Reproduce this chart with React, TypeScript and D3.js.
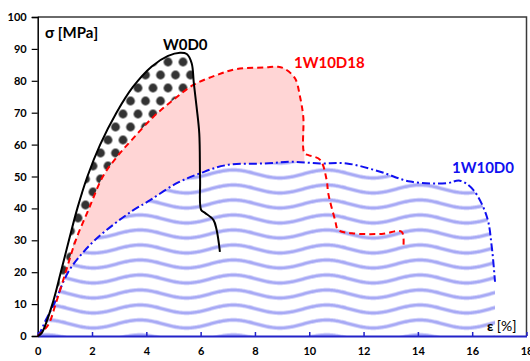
import { useEffect, useRef } from "react";
import * as d3 from "d3";

// stress-strain curves: [strain %, stress MPa]
const w0d0: [number, number][] = [
  [0, 0], [0.15, 1], [0.54, 10], [0.85, 20], [1.15, 30], [1.46, 40], [1.83, 50],
  [2.3, 60], [2.9, 70], [3.5, 78], [4.2, 84.5], [4.8, 87.8], [5.24, 88.8],
  [5.49, 88.4], [5.67, 85.5], [5.75, 79.2], [5.85, 71.9], [5.95, 63.5],
  [5.98, 48.9], [6.02, 39.5], [6.16, 38.6], [6.47, 36.4], [6.59, 33.2], [6.71, 26.4],
];
const w10d18: [number, number][] = [
  [0, 0], [0.2, 1.5], [0.42, 4], [0.66, 10], [1.03, 20], [1.4, 30], [1.89, 40], [2.4, 50],
  [2.95, 56.5], [3.5, 61.8], [4.26, 68.7], [4.99, 74], [5.73, 78.7], [6.59, 81.8], [7.33, 83.7],
  [8.37, 84.2], [8.85, 84.4], [9.11, 83.7], [9.48, 80.7], [9.66, 75], [9.78, 68.7],
  [9.82, 57.3], [9.97, 56.7], [10.4, 55.2], [10.64, 48.9], [10.7, 44.7], [10.95, 36.4],
  [11.07, 33.2], [11.57, 32.2], [12.67, 32], [13.4, 32.7], [13.47, 28.5],
];
const w10d0: [number, number][] = [
  [0, 0], [0.08, 1], [0.3, 5], [0.6, 10], [1.12, 20], [1.6, 25.5], [2.1, 30], [2.8, 35],
  [3.48, 39.2], [4.14, 42.6], [5.12, 47.9], [5.98, 51], [6.96, 53.6], [8.37, 54.1],
  [9.35, 54.6], [10.4, 54.1], [11.38, 54.1], [12.61, 51.5], [13.72, 48.4], [15.07, 47.9],
  [15.55, 48.7], [16.04, 45.8], [16.54, 37.4], [16.72, 28], [16.84, 17],
];
// index where the red curve drops onto the blue one (end of the pink band)
const redDropIndex = 21;

const xTicks = [0, 2, 4, 6, 8, 10, 12, 14, 16, 18];
const yTicks = [0, 10, 20, 30, 40, 50, 60, 70, 80, 90, 100];

const font = "Lato, 'Open Sans', sans-serif";

export default function App() {
  const ref = useRef<SVGSVGElement>(null);

  useEffect(() => {
    const svg = d3.select(ref.current);
    svg.selectAll("*").remove();

    const left = 37.7;
    const right = 526.5;
    const top = 17;
    const bottom = 336;
    const x = d3.scaleLinear().domain([0, 18]).range([left, right]);
    const y = d3.scaleLinear().domain([0, 100]).range([bottom, top]);

    const defs = svg.append("defs");

    // wavy pattern
    const P = 93.3;
    const wave = d3.range(-10, P + 11, 1).map((t) => [t, 7.5 - 4 * Math.sin((2 * Math.PI * t) / P)] as [number, number]);
    const wp = defs
      .append("pattern")
      .attr("id", "waves")
      .attr("patternUnits", "userSpaceOnUse")
      .attr("width", P)
      .attr("height", 15)
      .attr("x", 140 - P / 4)
      .attr("y", 256.5);
    wp.append("rect").attr("width", P).attr("height", 15).attr("fill", "#fff");
    wp.append("path")
      .attr("d", d3.line()(wave))
      .attr("fill", "none")
      .attr("stroke", "#a7a9f5")
      .attr("stroke-width", 3.4);

    // dot pattern
    const dp = defs
      .append("pattern")
      .attr("id", "dots")
      .attr("patternUnits", "userSpaceOnUse")
      .attr("width", 15)
      .attr("height", 26)
      .attr("x", 160.5)
      .attr("y", 55.5);
    dp.append("rect").attr("width", 15).attr("height", 26).attr("fill", "#fff");
    [[7.5, 6.5], [0, 19.5], [15, 19.5]].forEach(([cx, cy]) =>
      dp.append("circle").attr("cx", cx).attr("cy", cy).attr("r", 4.4).attr("fill", "#333")
    );

    defs.append("clipPath").attr("id", "plot")
      .append("rect").attr("x", left).attr("y", top).attr("width", right - left).attr("height", bottom - top);

    const curve = d3.curveCatmullRom.alpha(0.5);
    const line = d3.line<[number, number]>().x((d) => x(d[0])).y((d) => y(d[1])).curve(curve);
    const area = d3.area<[number, number]>().x((d) => x(d[0])).y0(y(0)).y1((d) => y(d[1])).curve(curve);

    const g = svg.append("g").attr("clip-path", "url(#plot)");
    g.append("path").attr("d", area(w0d0)).attr("fill", "url(#dots)");
    g.append("path").attr("d", area(w10d18.slice(0, redDropIndex + 1))).attr("fill", "#ffd5d5");
    g.append("path").attr("d", area(w10d0)).attr("fill", "url(#waves)");

    // frame
    svg.append("path")
      .attr("d", `M${left},${top}H${right}V${bottom}`)
      .attr("fill", "none")
      .attr("stroke", "#3a3a3a")
      .attr("stroke-width", 1.5);

    // axes
    const yAxis = svg.append("g")
      .attr("transform", `translate(${left},0)`)
      .call(d3.axisLeft(y).tickValues(yTicks).tickSize(6).tickPadding(5));
    yAxis.select(".domain").attr("stroke", "#000").attr("stroke-width", 1.5);
    yAxis.selectAll(".tick line").attr("stroke", "#000").attr("stroke-width", 1.2);
    yAxis.selectAll("text")
      .attr("font-family", font).attr("font-weight", "bold").attr("font-size", 11).attr("fill", "#000");

    const xAxis = svg.append("g")
      .attr("transform", `translate(0,${bottom})`)
      .call(d3.axisBottom(x).tickValues(xTicks).tickSize(-4).tickPadding(11).tickSizeOuter(0));
    xAxis.select(".domain").attr("stroke", "#2323c8").attr("stroke-width", 2);
    xAxis.selectAll(".tick line").attr("stroke", "#2323c8").attr("stroke-width", 1.5);
    xAxis.selectAll("text")
      .attr("font-family", font).attr("font-weight", "bold").attr("font-size", 11).attr("fill", "#000");

    // curves
    svg.append("path").attr("d", line(w10d0)).attr("fill", "none")
      .attr("stroke", "#1010f0").attr("stroke-width", 2).attr("stroke-dasharray", "8 3 2 3");
    svg.append("path").attr("d", line(w10d18)).attr("fill", "none")
      .attr("stroke", "#ff0000").attr("stroke-width", 2).attr("stroke-dasharray", "6 4");
    svg.append("path").attr("d", line(w0d0)).attr("fill", "none")
      .attr("stroke", "#000").attr("stroke-width", 2);

    // labels
    const label = (tx: number, ty: number, s: string, c: string, size = 15) =>
      svg.append("text").attr("x", tx).attr("y", ty).text(s)
        .attr("font-family", font).attr("font-weight", "bold").attr("font-size", size).attr("fill", c);
    label(45, 38, "σ [MPa]", "#000");
    label(163, 50, "W0D0", "#000");
    label(294, 68, "1W10D18", "#ff0000");
    label(452, 173, "1W10D0", "#1010f0");
    const eps = label(487, 331, "ε ", "#000", 14);
    eps.append("tspan").attr("font-weight", "normal").text("[%]");
  });

  return (
    <div style={{ position: "fixed", left: 0, top: 0 }}>
      <svg ref={ref} width={530} height={361} style={{ display: "block", background: "#fff" }} />
    </div>
  );
}
